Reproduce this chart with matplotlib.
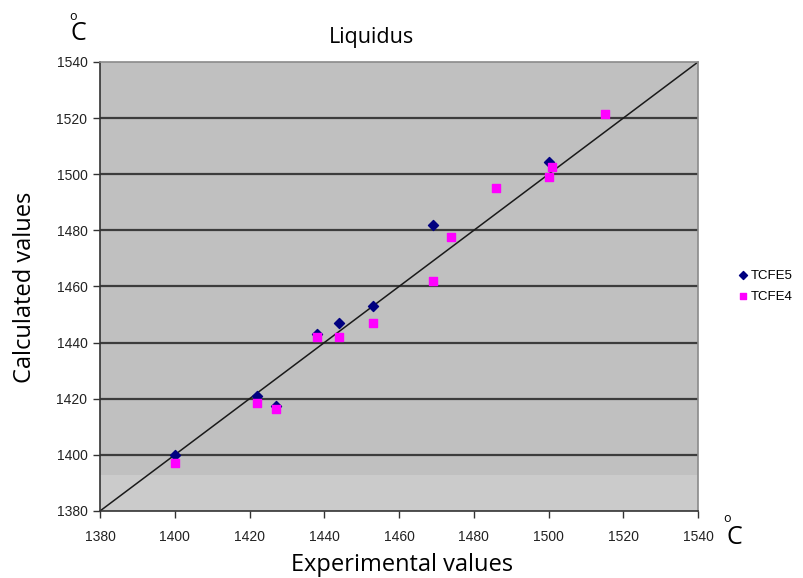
import matplotlib.pyplot as plt

# data
tcfe5_x = [1400, 1422, 1427, 1438, 1444, 1453, 1469, 1500]
tcfe5_y = [1400, 1421, 1417.5, 1443, 1447, 1453.2, 1482, 1504.5]
tcfe4_x = [1400, 1422, 1427, 1438, 1444, 1453, 1469, 1474, 1486, 1500, 1501, 1515]
tcfe4_y = [1397.2, 1418.5, 1416.5, 1442, 1442, 1447, 1462, 1477.5, 1495, 1499, 1502.5, 1521.3]
ticks = [1380, 1400, 1420, 1440, 1460, 1480, 1500, 1520, 1540]

fig = plt.figure(figsize=(8.04, 5.78), dpi=100)
ax = fig.add_axes([100/804, 1-511/578, 598/804, 449/578])
ax.set_facecolor('#c0c0c0')
ax.axhspan(1380, 1393, color='#cbcbcb', zorder=0, lw=0)

for t in ticks[1:-1]:
    ax.axhline(t, color='#3c3c3c', lw=1.6, zorder=1)

ax.plot([1380, 1540], [1380, 1540], color='#1a1a1a', lw=1.1, zorder=2)
ax.scatter(tcfe5_x, tcfe5_y, marker='D', s=26, color='#000080', zorder=3, label='TCFE5')
ax.scatter(tcfe4_x, tcfe4_y, marker='s', s=30, color='#ff00ff', zorder=4, label='TCFE4')

ax.set_xlim(1380, 1540)
ax.set_ylim(1380, 1540)
ax.set_xticks(ticks)
ax.set_yticks(ticks)
ax.tick_params(direction='out', length=5, width=1, color='#333333', labelsize=10,
               labelcolor='#222222')
for lab in ax.get_xticklabels() + ax.get_yticklabels():
    lab.set_family('Liberation Sans')
ax.tick_params(axis='x', pad=9)
ax.tick_params(axis='y', pad=4)

for s in ['left', 'bottom']:
    ax.spines[s].set_color('#333333')
    ax.spines[s].set_linewidth(1.2)
for s in ['top', 'right']:
    ax.spines[s].set_color('#8a8a8a')
    ax.spines[s].set_linewidth(1.2)

fig.text(372/804, 1-37/578, 'Liquidus', ha='center', va='center', fontsize=15.5, family='Open Sans')
fig.text(25/804, 1-287/578, 'Calculated values', ha='center', va='center', rotation=90,
         fontsize=17, family='Open Sans')
fig.text(402/804, 1-565/578, 'Experimental values', ha='center', va='center', fontsize=17,
         family='Open Sans')

# degree C labels
fig.text(78/804, 1-34/578, 'C', ha='center', va='center', fontsize=18, family='Open Sans')
fig.text(73/804, 1-16/578, 'o', ha='center', va='center', fontsize=9, family='Open Sans')
fig.text(734/804, 1-537/578, 'C', ha='center', va='center', fontsize=18, family='Open Sans')
fig.text(727/804, 1-518/578, 'o', ha='center', va='center', fontsize=9, family='Open Sans')

fig.legend(loc='center left', bbox_to_anchor=(738/804, 1-286/578), frameon=False,
           prop={'family': 'Liberation Sans', 'size': 9.5}, handletextpad=0.15,
           handlelength=0.8, labelspacing=0.65, markerscale=0.8, borderpad=0,
           borderaxespad=0)

plt.savefig('out.png', dpi=100)
